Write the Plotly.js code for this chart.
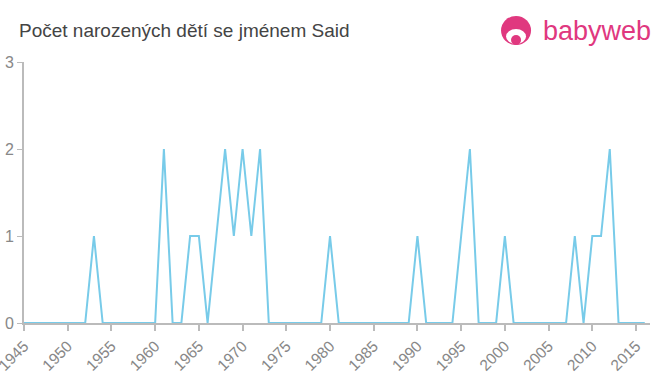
<!DOCTYPE html>
<html>
<head>
<meta charset="utf-8">
<script src="https://cdn.plot.ly/plotly-3.0.1.min.js"></script>
<style>html,body{margin:0;padding:0;background:#fff;}#chart{width:660px;height:375px;}</style>
</head>
<body>
<div id="chart"></div>
<script>
const years = [1945,1946,1947,1948,1949,1950,1951,1952,1953,1954,1955,1956,1957,1958,1959,1960,1961,1962,1963,1964,1965,1966,1967,1968,1969,1970,1971,1972,1973,1974,1975,1976,1977,1978,1979,1980,1981,1982,1983,1984,1985,1986,1987,1988,1989,1990,1991,1992,1993,1994,1995,1996,1997,1998,1999,2000,2001,2002,2003,2004,2005,2006,2007,2008,2009,2010,2011,2012,2013,2014,2015,2016];
const births = [0,0,0,0,0,0,0,0,1,0,0,0,0,0,0,0,2,0,0,1,1,0,1,2,1,2,1,2,0,0,0,0,0,0,0,1,0,0,0,0,0,0,0,0,0,1,0,0,0,0,1,2,0,0,0,1,0,0,0,0,0,0,0,1,0,1,1,2,0,0,0,0];
const titleText = "Počet narozených dětí se jménem Said";
const logoText = "babyweb";

const trace = {
  x: years, y: births, type: 'scatter', mode: 'lines',
  line: {color: '#78cbe9', width: 2}, hoverinfo: 'skip'
};
const pink = '#e0387f';
const font = 'Liberation Sans, Arial, sans-serif';
const layout = {
  width: 660, height: 375,
  margin: {l: 24, r: 10, t: 62, b: 52},
  paper_bgcolor: '#fff', plot_bgcolor: '#fff',
  showlegend: false,
  title: {text: titleText, x: 19/660, xanchor: 'left', y: 1 - 30/375, yanchor: 'middle',
          font: {family: font, size: 19, color: '#444'}},
  xaxis: {
    range: [1945, 2016.6], tick0: 1945, dtick: 5, tickangle: -45,
    showgrid: false, zeroline: false, showline: true, linecolor: '#bbb', linewidth: 2,
    ticks: 'outside', ticklen: 6, tickcolor: '#bbb', tickwidth: 2,
    ticklabeloverflow: 'allow',
    tickfont: {family: font, size: 15.5, color: '#888'}
  },
  yaxis: {
    range: [0, 3], dtick: 1, tick0: 0,
    showgrid: false, zeroline: false, showline: true, linecolor: '#bbb', linewidth: 2,
    ticks: 'outside', ticklen: 5, tickcolor: '#bbb', tickwidth: 1,
    tickfont: {family: font, size: 16, color: '#888'}
  },
  shapes: [
    {type: 'circle', xref: 'paper', yref: 'paper', xsizemode: 'pixel', ysizemode: 'pixel',
     xanchor: 0.786, yanchor: 1.119, x0: -15, x1: 15, y0: -14, y1: 15,
     fillcolor: pink, line: {width: 0}},
    {type: 'circle', xref: 'paper', yref: 'paper', xsizemode: 'pixel', ysizemode: 'pixel',
     xanchor: 0.786, yanchor: 1.119, x0: -10, x1: 10, y0: -13, y1: 2,
     fillcolor: '#fff', line: {width: 0}},
    {type: 'circle', xref: 'paper', yref: 'paper', xsizemode: 'pixel', ysizemode: 'pixel',
     xanchor: 0.786, yanchor: 1.119, x0: -5, x1: 5, y0: -14, y1: -4,
     fillcolor: pink, line: {width: 0}}
  ],
  annotations: [
    {text: logoText, xref: 'paper', yref: 'paper', x: 1.004, y: 1.119, xanchor: 'right', yanchor: 'middle',
     showarrow: false, font: {family: font, size: 27, color: pink}}
  ]
};
Plotly.newPlot('chart', [trace], layout, {displayModeBar: false, staticPlot: true});
</script>
</body>
</html>
